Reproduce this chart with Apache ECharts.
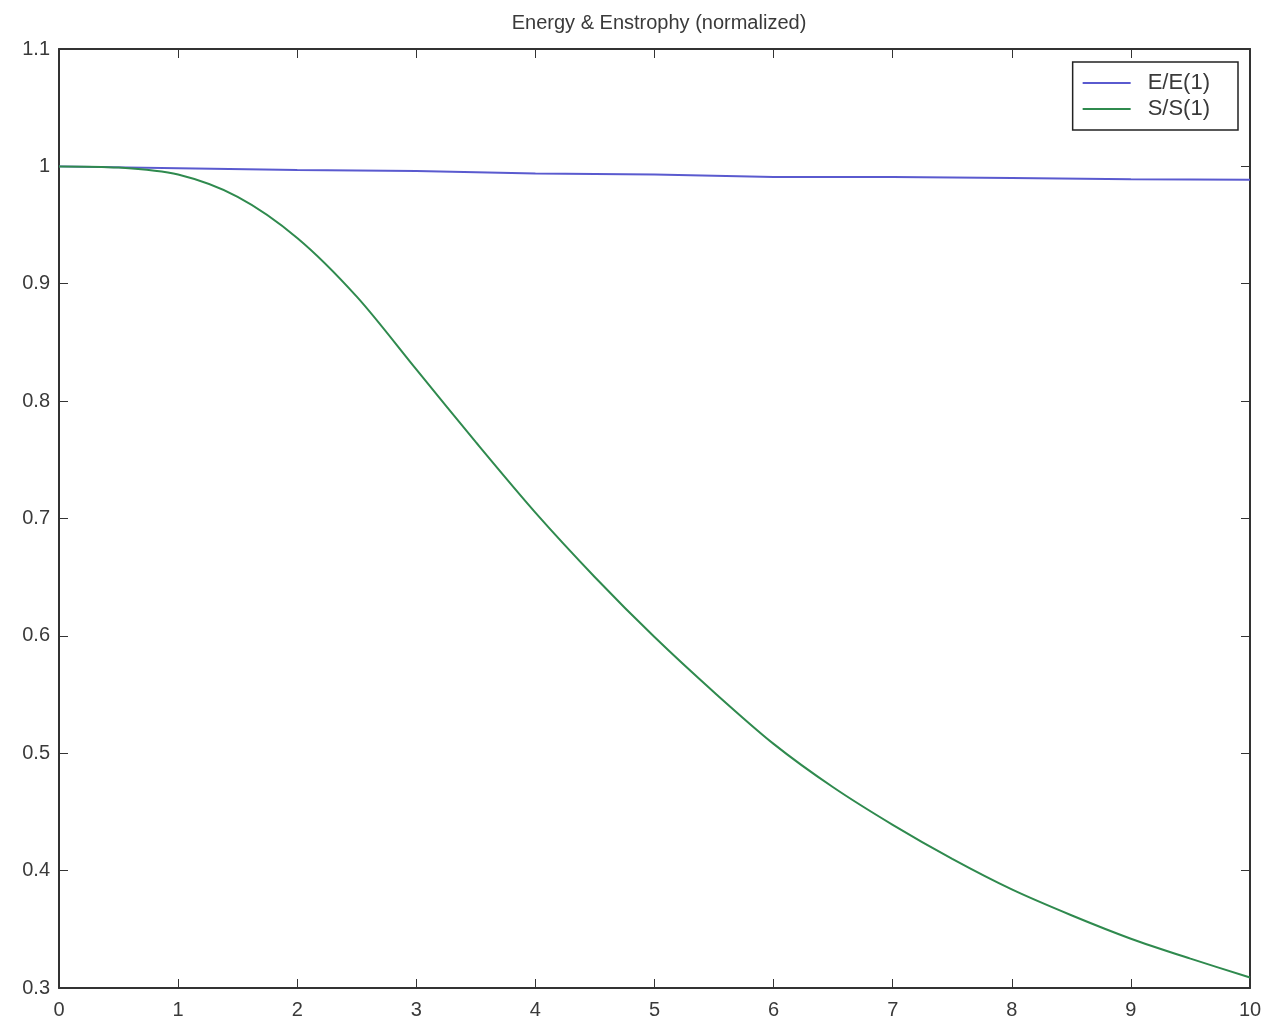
<!DOCTYPE html>
<html>
<head>
<meta charset="utf-8">
<script src="https://cdn.jsdelivr.net/npm/echarts@6/dist/echarts.min.js"></script>
<style>
  html, body { margin: 0; padding: 0; background: #fff; }
  #chart { width: 1270px; height: 1029px; }
</style>
</head>
<body>
<div id="chart"></div>
<script>
// time samples and normalized values
const timeE = [0, 1, 2, 3, 4, 5, 6, 7, 8, 9, 10];
const energy = [1.0, 0.9985, 0.997, 0.996, 0.994, 0.993, 0.991, 0.991, 0.990, 0.989, 0.9885];

const timeS = [0, 0.5, 1, 1.5, 2, 2.5, 3, 3.5, 4, 4.5, 5, 5.5, 6, 6.5, 7, 7.5, 8, 8.5, 9, 9.5, 10];
const enstrophy = [1.0, 0.999, 0.993, 0.974, 0.939, 0.889, 0.827, 0.765, 0.705, 0.650, 0.599,
  0.552, 0.508, 0.471, 0.439, 0.410, 0.384, 0.362, 0.342, 0.325, 0.309];

const seriesNames = ["E/E(1)", "S/S(1)"];

const pair = (xs, ys) => xs.map((x, i) => [x, ys[i]]);

const font = "Liberation Sans";
const axisLine = { show: true, onZero: false, lineStyle: { color: "#333", width: 2 } };
const tick = { show: true, inside: true, length: 9, lineStyle: { color: "#333", width: 1 } };

const chart = echarts.init(document.getElementById("chart"));
chart.setOption({
  animation: false,
  title: {
    text: "Energy & Enstrophy (normalized)",
    left: 654,
    top: 8,
    textAlign: "center",
    textStyle: { fontFamily: font, fontSize: 20, fontWeight: "normal", color: "#3a3a3a" },
  },
  legend: {
    data: seriesNames,
    orient: "vertical",
    right: 32,
    top: 62,
    itemWidth: 48,
    itemHeight: 2,
    itemGap: 4,
    padding: [10, 28, 10, 10],
    borderColor: "#222",
    borderWidth: 1.5,
    icon: "rect",
    textStyle: { fontFamily: font, fontSize: 22, color: "#3a3a3a", padding: [0, 0, 0, 12] },
  },
  grid: { left: 59, right: 20, top: 49, bottom: 41, containLabel: false },
  xAxis: [
    {
      type: "value", min: 0, max: 10, interval: 1,
      axisLine, axisTick: tick, splitLine: { show: false },
      axisLabel: { fontFamily: font, fontSize: 20, color: "#3a3a3a", margin: 12 },
    },
    {
      type: "value", position: "top", min: 0, max: 10, interval: 1,
      axisLine, axisTick: tick, splitLine: { show: false }, axisLabel: { show: false },
    },
  ],
  yAxis: [
    {
      type: "value", min: 0.3, max: 1.1, interval: 0.1,
      axisLine, axisTick: tick, splitLine: { show: false },
      axisLabel: {
        fontFamily: font, fontSize: 20, color: "#3a3a3a", margin: 9,
        formatter: (v) => String(Math.round(v * 10) / 10),
      },
    },
    {
      type: "value", position: "right", min: 0.3, max: 1.1, interval: 0.1,
      axisLine, axisTick: tick, splitLine: { show: false }, axisLabel: { show: false },
    },
  ],
  series: [
    {
      name: seriesNames[0], type: "line", data: pair(timeE, energy),
      showSymbol: false, symbol: "none",
      lineStyle: { color: "#5a5acf", width: 2 }, itemStyle: { color: "#5a5acf" },
    },
    {
      name: seriesNames[1], type: "line", data: pair(timeS, enstrophy),
      smooth: 0.3, showSymbol: false, symbol: "none",
      lineStyle: { color: "#2f8a4e", width: 2 }, itemStyle: { color: "#2f8a4e" },
    },
  ],
});
</script>
</body>
</html>
